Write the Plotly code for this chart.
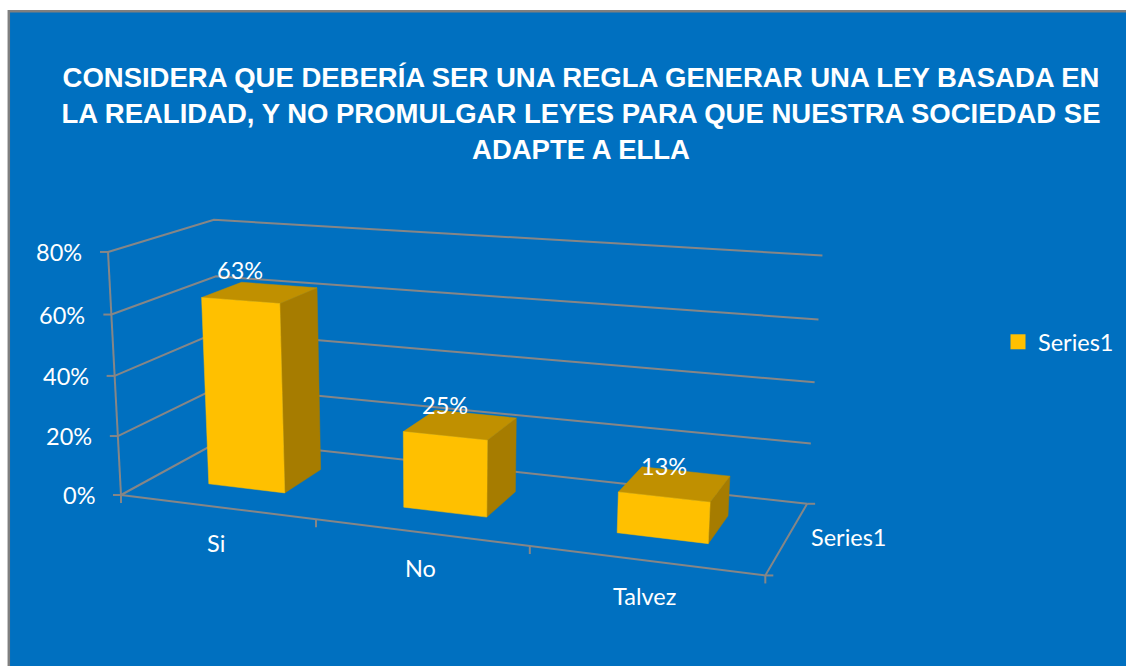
import plotly.graph_objects as go

# ---------------- data ----------------
categories = ["Si", "No", "Talvez"]
values = [0.63, 0.25, 0.13]
series_name = "Series1"
y_ticks = [0.0, 0.2, 0.4, 0.6, 0.8]
y_tick_labels = ["0%", "20%", "40%", "60%", "80%"]
title_lines = [
    "CONSIDERA QUE DEBERÍA SER UNA REGLA GENERAR UNA LEY BASADA EN",
    "LA REALIDAD, Y NO PROMULGAR LEYES PARA QUE NUESTRA SOCIEDAD SE",
    "ADAPTE A ELLA",
]

# ---------------- styles ----------------
W, H = 1126, 666
BLUE = "#0070C0"
GRID = "#868686"
FRONT = "#FFC000"
TOP = "#C09000"
SIDE = "#A67C00"
TXT = "#FFFFFF"
FONT = "Lato"
ZMAX = y_ticks[-1]
NCAT = len(categories)
BAR_LO, BAR_HI = 0.3, 0.7      # bar extent inside a category slot (gap width 150%)
DEP_LO, DEP_HI = 0.3, 0.7      # bar extent in depth


# perspective view of the 3-D box (u: category units, d: depth 0..1, z: value)
def proj(u, d, z):
    zz = z / ZMAX
    w = 1 - 0.044 * u + 0.1104 * d - 0.03914 * zz
    x = (121 + 181.1 * u + 125.4 * d - 17.22 * zz) / w
    y = (495 + 1.5 * u - 6.6 * d - 252.9 * zz) / w
    return x, y


def poly(points):
    xs, ys = zip(*[proj(*p) for p in points])
    return list(xs) + [xs[0]], list(ys) + [ys[0]]


fig = go.Figure()

# chart-area background with its border
fig.add_shape(type="rect", x0=8.8, y0=11.2, x1=W + 10, y1=H + 10,
              fillcolor=BLUE, line=dict(color="#7F7F7F", width=2.5), layer="below")

line_style = dict(color=GRID, width=2)


def seg(pts):
    fig.add_trace(go.Scatter(x=[p[0] for p in pts], y=[p[1] for p in pts], mode="lines",
                             line=line_style, hoverinfo="skip", showlegend=False))


# side wall + back wall gridlines, value-axis ticks
for t in y_ticks:
    seg([proj(0, 0, t), proj(0, 1, t), proj(NCAT, 1, t)])
    px, py = proj(0, 0, t)
    seg([(px - 8, py), (px, py)])

# value axis line
seg([proj(0, 0, 0), proj(0, 0, ZMAX)])

# floor front edge and right edge
seg([proj(0, 0, 0), proj(NCAT, 0, 0), proj(NCAT, 1, 0)])

# category ticks
for u in range(NCAT + 1):
    px, py = proj(u, 0, 0)
    seg([(px, py), (px, py + 8)])
# depth-axis ticks
for d in (0, 1):
    px, py = proj(NCAT, d, 0)
    seg([(px, py), (px + 8, py)])

# bars
for i, v in enumerate(values):
    u0, u1 = i + BAR_LO, i + BAR_HI
    faces = [
        ([(u1, DEP_LO, 0), (u1, DEP_HI, 0), (u1, DEP_HI, v), (u1, DEP_LO, v)], SIDE),
        ([(u0, DEP_LO, v), (u1, DEP_LO, v), (u1, DEP_HI, v), (u0, DEP_HI, v)], TOP),
        ([(u0, DEP_LO, 0), (u1, DEP_LO, 0), (u1, DEP_LO, v), (u0, DEP_LO, v)], FRONT),
    ]
    for pts, col in faces:
        xs, ys = poly(pts)
        fig.add_trace(go.Scatter(x=xs, y=ys, mode="lines", fill="toself", fillcolor=col,
                                 line=dict(color=col, width=0.5), hoverinfo="skip",
                                 showlegend=False))

# legend entry
fig.add_trace(go.Scatter(x=[None], y=[None], mode="markers", name=series_name,
                         marker=dict(symbol="square", size=15, color=FRONT)))

annos = []
font = dict(family=FONT, size=23.5, color=TXT)
# data labels
for i, v in enumerate(values):
    px, py = proj(i + 0.5, DEP_LO, v)
    annos.append(dict(x=px, y=py, text=f"{int(v * 100 + 0.5)}%", showarrow=False,
                      xanchor="center", yanchor="middle", yshift=31, font=font))
# category labels
for i, c in enumerate(categories):
    px, py = proj(i + 0.5, 0, 0)
    annos.append(dict(x=px, y=py, text=c, showarrow=False, xanchor="center",
                      yanchor="middle", yshift=-36, font=font))
# value-axis labels
for t, lab in zip(y_ticks, y_tick_labels):
    px, py = proj(0, 0, t)
    annos.append(dict(x=px, y=py, text=lab, showarrow=False, xanchor="right",
                      yanchor="middle", xshift=-24, font=font))
# depth-axis label
px, py = proj(NCAT, 0.5, 0)
annos.append(dict(x=px, y=py, text=series_name, showarrow=False, xanchor="left",
                  yanchor="middle", xshift=22, font=font))

fig.update_layout(
    width=W, height=H,
    margin=dict(l=0, r=0, t=0, b=0),
    paper_bgcolor="white", plot_bgcolor="white",
    xaxis=dict(range=[0, W], visible=False, fixedrange=True),
    yaxis=dict(range=[H, 0], visible=False, fixedrange=True),
    title=dict(text="<br>".join(title_lines), x=581 / W, xanchor="center",
               y=1 - 87 / H, yanchor="middle", yref="container",
               font=dict(family="Liberation Sans", size=27.5, color=TXT, weight="bold")),
    annotations=annos,
    showlegend=True,
    legend=dict(x=998 / W, y=1 - 342 / H, xanchor="left",
                yanchor="middle", bgcolor="rgba(0,0,0,0)", font=font, itemwidth=30),
)

fig.write_html(
    "out.html",
    config={"displayModeBar": False},
    post_script=(
        "document.body.style.margin='0';"
        "document.body.style.overflow='hidden';"
        "document.documentElement.style.overflow='hidden';"
        "document.body.style.background='" + BLUE + "';"
        "document.documentElement.style.background='" + BLUE + "';"
    ),
)
